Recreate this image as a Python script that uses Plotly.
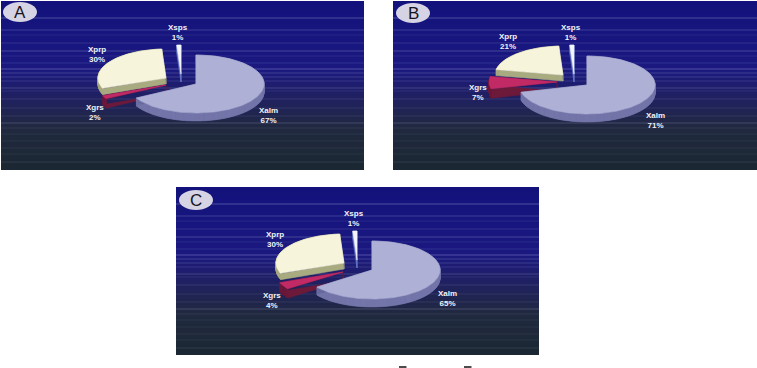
import numpy as np
import plotly.graph_objects as go

# ---------- data ----------
slice_names = ["Xalm", "Xgrs", "Xprp", "Xsps"]
values_A = [67, 2, 30, 1]
values_B = [71, 7, 21, 1]
values_C = [65, 4, 30, 1]

# ---------- layout / style ----------
panels = {
    "A": dict(values=values_A, box=(1, 364, 1, 170), badge=(20, 12),
              apex=[(196, 84), (166, 85), (166, 78), (181, 74)],
              labels=[(268, 115), (95, 112), (97, 54), (178, 32)]),
    "B": dict(values=values_B, box=(393, 757, 1, 170), badge=(413, 13),
              apex=[(587, 85), (557, 82), (563, 75), (574, 74)],
              labels=[(655, 120), (478, 92), (508, 41), (571, 32)]),
    "C": dict(values=values_C, box=(176, 539, 187, 355), badge=(196, 200),
              apex=[(372, 270), (343, 272), (344, 263), (357, 260)],
              labels=[(447, 298), (272, 300), (275, 239), (354, 218)]),
}
top_colors = ["#aeb0d6", "#c22a66", "#f7f4dc", "#f4f6fc"]
side_colors = ["#7476aa", "#6d1a3a", "#a8aa80", "#6678c8"]
depths = [8, 9, 6, 8]
RX, RY = 68, 29
bg_scale = [[0, "#13127c"], [0.4, "#1b1980"], [0.58, "#20215f"],
            [0.75, "#20293f"], [1, "#1b2732"]]
stripe_rows = [17, 29, 34, 42, 50, 55, 62, 68, 72, 76, 80, 87, 90, 98, 107,
               115, 122, 127, 133, 140, 147, 153, 161]
stripe_alpha = [.3, .22, .1, .15, .25, .1, .12, .3, .2, .18, .15, .2, .1, .12, .1,
                .1, .22, .1, .08, .08, .08, .08, .12]

fig = go.Figure()


def wedge(apex, a0, a1):
    """Top face of a slice; angles in degrees clockwise from 12 o'clock."""
    t = np.radians(np.linspace(a0, a1, max(int(a1 - a0) + 2, 3)))
    xs = np.r_[apex[0], apex[0] + RX * np.sin(t), apex[0]]
    ys = np.r_[apex[1], apex[1] - RY * np.cos(t), apex[1]]
    return xs, ys


def sides(xs, ys, depth):
    """Extrusion of the wedge outline downwards, as quads."""
    ox, oy = [], []
    for i in range(len(xs) - 1):
        ox += [xs[i], xs[i + 1], xs[i + 1], xs[i], xs[i], None]
        oy += [ys[i], ys[i + 1], ys[i + 1] + depth, ys[i] + depth, ys[i], None]
    return ox, oy


def poly(x, y, color, **kw):
    fig.add_trace(go.Scatter(x=x, y=y, mode="lines", fill="toself", fillcolor=color,
                             line=dict(color=color, width=0.6), hoverinfo="skip",
                             showlegend=False, **kw))


for letter, p in panels.items():
    x0, x1, y0, y1 = p["box"]
    rows = np.arange(y0, y1 + 1, 1.0)
    z = ((rows[:-1] - y0) / (y1 - y0)).reshape(-1, 1)
    fig.add_trace(go.Heatmap(x=[x0, x1], y=rows, z=z, zmin=0, zmax=1, colorscale=bg_scale,
                             showscale=False, hoverinfo="skip"))
    for r, a in zip(stripe_rows, stripe_alpha):
        fig.add_trace(go.Scatter(x=[x0, x1], y=[y0 + r, y0 + r], mode="lines",
                                 line=dict(color=f"rgba(205,210,245,{a})", width=1),
                                 hoverinfo="skip", showlegend=False))

    cum = np.cumsum([0] + p["values"]) * 3.6
    faces = [wedge(p["apex"][i], cum[i], cum[i + 1]) for i in range(4)]
    for i in (3, 2, 1, 0):
        xs, ys = faces[i]
        sx, sy = sides(xs, ys, depths[i])
        poly(sx, sy, side_colors[i])
        poly(xs, ys, top_colors[i])

    for i, name in enumerate(slice_names):
        lx, ly = p["labels"][i]
        fig.add_annotation(x=lx, y=ly, text=f"{name}<br>{p['values'][i]}%", showarrow=False,
                           font=dict(family="Liberation Sans", size=8, color="#f2f2f8", weight="bold"))

    bx, by = p["badge"]
    fig.add_shape(type="circle", x0=bx - 17, x1=bx + 17, y0=by - 10, y1=by + 10,
                  fillcolor="#d6d3e4", line=dict(width=0), layer="above")
    fig.add_annotation(x=bx, y=by, text=letter, showarrow=False,
                       font=dict(family="Liberation Sans", size=17, color="#15151f"))

for dx in (399, 464):
    fig.add_shape(type="line", x0=dx, x1=dx + 7.5, y0=367, y1=367, line=dict(color="#111", width=1.5))

fig.update_layout(width=757, height=368, margin=dict(l=0, r=0, t=0, b=0),
                  paper_bgcolor="white", plot_bgcolor="white", showlegend=False)
fig.update_xaxes(range=[0, 757], visible=False, fixedrange=True)
fig.update_yaxes(range=[368, 0], visible=False, fixedrange=True)
fig.write_html("out.html", config=dict(displayModeBar=False),
               post_script="document.body.style.margin='0';document.documentElement.style.overflow='hidden';")
